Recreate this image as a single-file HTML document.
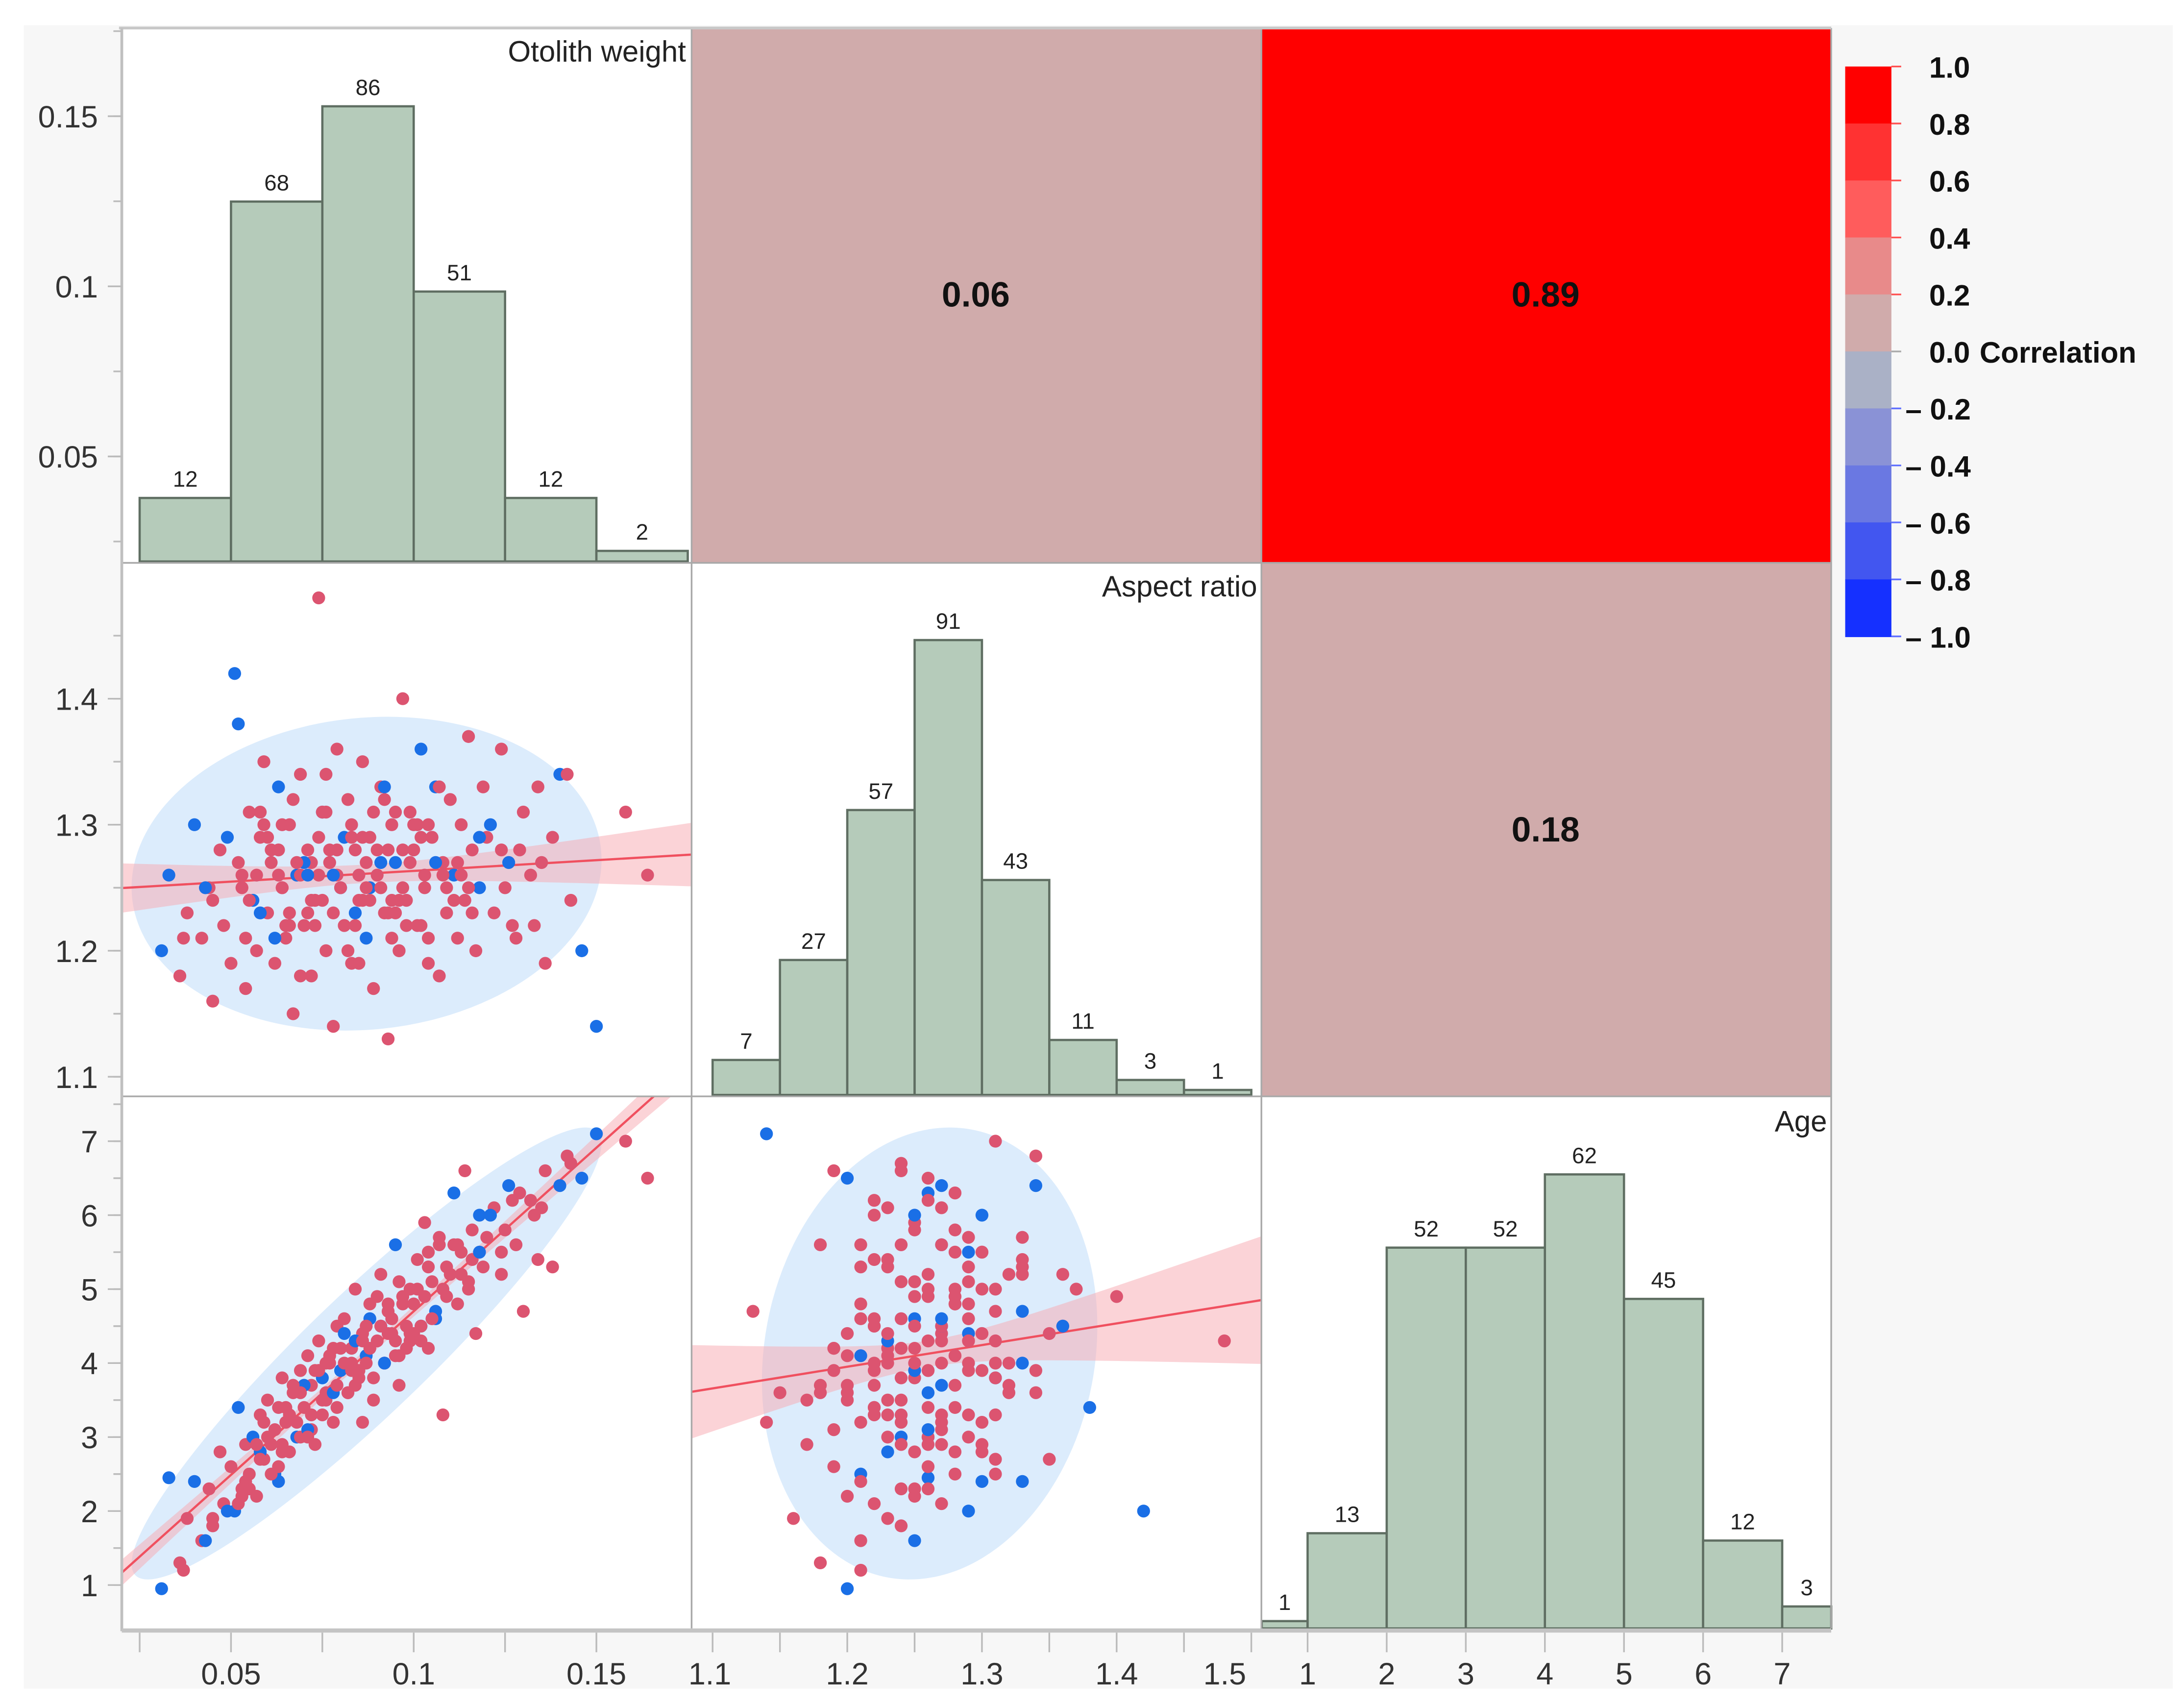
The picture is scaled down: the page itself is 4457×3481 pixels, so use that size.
<!DOCTYPE html>
<html><head><meta charset="utf-8"><style>
html,body{margin:0;padding:0;background:#fff;}
svg{display:block;}
text{font-family:"Liberation Sans",sans-serif;}
</style></head><body>
<svg id="chart" width="4457" height="3481" viewBox="0 0 1560 1218.4" preserveAspectRatio="none" xmlns="http://www.w3.org/2000/svg">
<rect x="0" y="0" width="1560" height="1218.4" fill="#ffffff"/>
<rect x="17" y="18" width="1535" height="1188" fill="#f7f7f7"/>
<rect x="87" y="20" width="1221" height="1143" fill="#ffffff"/>
<defs>
<clipPath id="c10"><rect x="87" y="402" width="407" height="381"/></clipPath>
<clipPath id="c20"><rect x="87" y="783" width="407" height="380"/></clipPath>
<clipPath id="c21"><rect x="494" y="783" width="407" height="380"/></clipPath>
</defs>
<g id="layer"></g>
</svg>
<script>
// ---- data ----
const owValues=[0.031,0.033,0.036,0.038,0.040,0.042,0.044,0.045,0.047,0.048,
0.050,0.051,0.052,0.053,0.054,0.055,0.056,0.057,0.058,0.059,
0.060,0.061,0.062,0.063,0.064,0.065,0.066,0.067,0.068,0.069,
0.070,0.071,0.072,0.073,0.074,0.075,0.076,0.077,0.078,0.079,
0.080,0.081,0.082,0.083,0.084,0.085,0.086,0.087,0.088,0.089,
0.090,0.091,0.092,0.093,0.094,0.095,0.096,0.097,0.098,0.099,
0.100,0.101,0.102,0.103,0.104,0.105,0.106,0.107,0.108,0.109,
0.110,0.111,0.112,0.113,0.114,0.115,0.116,0.117,0.118,0.119,
0.120,0.122,0.124,0.126,0.128,0.130,0.132,0.134,0.136,0.138,
0.140,0.143,0.146,0.150,0.158,0.164,0.072,0.078,0.083,0.088,
0.092,0.097,0.066,0.074,0.081,0.086,0.094,0.099,0.104,0.109,
0.058,0.063,0.069,0.076,0.084,0.091,0.096,0.102,0.107,0.113,
0.055,0.060,0.065,0.070,0.075,0.080,0.085,0.090,0.095,0.100,
0.057,0.062,0.067,0.072,0.077,0.082,0.087,0.092,0.097,0.102,
0.059,0.064,0.069,0.074,0.079,0.084,0.089,0.094,0.099,0.104,
0.061,0.066,0.071,0.076,0.081,0.086,0.091,0.096,0.101,0.106,
0.053,0.058,0.068,0.073,0.078,0.083,0.088,0.093,0.098,0.108,
0.112,0.116,0.121,0.125,0.129,0.133,0.045,0.049,0.054,0.063,
0.071,0.079,0.087,0.095,0.103,0.111,0.118,0.127,0.135,0.142,
0.037,0.043,0.052,0.064,0.075,0.085,0.093,0.105,0.115,0.124];
const arValues=[1.20,1.26,1.18,1.23,1.30,1.21,1.25,1.16,1.28,1.22,
1.19,1.42,1.38,1.26,1.17,1.31,1.24,1.20,1.29,1.35,
1.23,1.27,1.19,1.33,1.25,1.21,1.30,1.15,1.26,1.34,
1.22,1.28,1.18,1.24,1.48,1.31,1.20,1.27,1.14,1.36,
1.25,1.22,1.32,1.19,1.28,1.24,1.35,1.21,1.29,1.17,
1.26,1.33,1.23,1.13,1.30,1.27,1.20,1.40,1.24,1.31,
1.28,1.22,1.36,1.25,1.19,1.29,1.33,1.18,1.27,1.23,
1.32,1.26,1.21,1.30,1.24,1.37,1.28,1.20,1.25,1.33,
1.29,1.23,1.36,1.27,1.21,1.31,1.26,1.33,1.19,1.29,
1.34,1.24,1.20,1.14,1.31,1.26,1.27,1.23,1.30,1.25,
1.32,1.28,1.22,1.26,1.29,1.24,1.21,1.27,1.30,1.25,
1.23,1.28,1.26,1.31,1.22,1.27,1.24,1.29,1.33,1.26,
1.24,1.29,1.22,1.27,1.31,1.25,1.19,1.28,1.23,1.30,
1.26,1.21,1.32,1.24,1.28,1.20,1.27,1.33,1.25,1.22,
1.30,1.25,1.18,1.29,1.26,1.23,1.31,1.24,1.27,1.21,
1.28,1.23,1.26,1.34,1.22,1.29,1.25,1.20,1.30,1.27,
1.25,1.31,1.27,1.22,1.26,1.29,1.24,1.28,1.22,1.26,
1.27,1.23,1.30,1.25,1.28,1.22,1.24,1.29,1.21,1.26,
1.23,1.28,1.25,1.31,1.26,1.24,1.29,1.22,1.27,1.34,
1.21,1.25,1.27,1.30,1.24,1.26,1.23,1.29,1.25,1.28];
const ageValues=[0.95,2.45,1.3,1.9,2.4,1.6,2.3,1.9,2.8,2.1,
2.6,2.0,3.4,2.3,2.9,2.5,3.0,2.2,3.3,2.7,
3.5,2.9,3.1,2.4,3.8,3.2,2.8,3.6,3.0,3.9,
3.4,4.1,3.7,2.9,4.3,3.8,3.5,4.0,3.2,4.5,
3.9,4.6,3.6,4.2,5.0,3.8,4.4,4.1,4.8,3.5,
4.3,5.2,4.0,4.7,4.4,5.6,3.7,4.9,4.2,5.0,
4.8,5.4,4.5,5.9,4.2,5.1,4.7,5.6,3.3,5.3,
5.2,6.3,4.8,5.5,6.6,5.0,5.8,4.4,6.0,5.3,
5.7,6.1,5.2,6.4,5.6,4.7,6.2,5.4,6.6,5.3,
6.4,6.7,6.5,7.1,7.0,6.5,3.1,4.2,3.9,4.6,
4.0,4.8,3.3,3.9,4.4,3.2,4.6,4.4,5.5,4.9,
2.8,3.4,3.0,4.0,3.7,4.5,5.1,4.3,5.7,5.2,
2.3,3.0,3.4,3.7,3.3,4.2,3.9,4.9,4.1,4.4,
2.9,2.5,3.7,3.3,4.1,3.6,4.5,4.0,4.9,4.5,
3.2,2.8,3.6,3.9,3.4,4.3,3.8,4.6,4.3,5.3,
2.5,3.3,3.1,3.6,4.0,4.3,4.5,4.1,5.0,4.6,
2.2,2.7,3.2,3.9,3.6,4.0,4.2,4.8,4.5,5.0,
5.6,5.4,6.0,5.8,6.3,6.0,1.8,2.0,2.4,2.6,
3.0,3.7,4.0,4.3,4.9,5.6,5.5,6.2,6.1,6.8,
1.2,1.6,2.1,2.9,3.5,3.9,4.4,4.6,5.1,5.5];
const groupCodes=("bbrrbrrrrr"+"rbbrrrbrrr"+"rrrbrrrrbr"+"rrrrrbrrrr"+"brrrrrrbrr"+"rrrrrbrrrr"+"rrbrrrbrrr"+"rbrrrrrrbr"+"rrrbrrrrrr"+"brbbrrrrrb"+"rrrrbrrrrr"+"brrrrbrrrr"+
"rrrbrrrrrr"+"rbrrrrrbrr"+"rrrrrbrrrr"+"rrbrrrrrrb"+"rrrrbrrrrr"+"rrbrrrrbrr"+"rrrrrrbrrr"+"rbrrrrrrrr").split("");
const owBinEdges=[0.025,0.05,0.075,0.1,0.125,0.15,0.175];
const owCounts=[12,68,86,51,12,2];
const arBinEdges=[1.1,1.15,1.2,1.25,1.3,1.35,1.4,1.45,1.5];
const arCounts=[7,27,57,91,43,11,3,1];
const ageBinEdges=[0.42,1,2,3,4,5,6,7,7.62];
const ageCounts=[1,13,52,52,62,45,12,3];
const corrValues=[0.06,0.89,0.18];
const owTicks=[0.05,0.1,0.15];
const owTickLabels=["0.05","0.1","0.15"];
const arTicks=[1.1,1.2,1.3,1.4,1.5];
const arTickLabels=["1.1","1.2","1.3","1.4","1.5"];
const ageTicks=[1,2,3,4,5,6,7];
const ageTickLabels=["1","2","3","4","5","6","7"];
const legendValues=[1.0,0.8,0.6,0.4,0.2,0.0,-0.2,-0.4,-0.6,-0.8,-1.0];
const legendLabels=["1.0","0.8","0.6","0.4","0.2","0.0","\u2013 0.2","\u2013 0.4","\u2013 0.6","\u2013 0.8","\u2013 1.0"];
const legendColors=["#ff0000","#ff3232","#ff5c5c","#e88a8a","#d0abab","#aab1c6","#8a92d6","#6a78e2","#4256f0","#1530ff"];

// ---- scales ----
const xOW=v=>165+(v-0.05)*2610;
const yOW=v=>326-(v-0.05)*2430;
const xAR=v=>509+(v-1.1)*962;
const yAR=v=>769-(v-1.1)*900;
const xAGE=v=>934+(v-1)*56.5;
const yAGE=v=>1132-(v-1)*52.83;
const hOW=c=>401-c*3.78;
const hAR=c=>782-c*3.57;
const hAGE=c=>1163-c*5.23;
const yLeg=v=>251-v*203.5;
const corrColor=r=>legendColors[Math.min(9,Math.max(0,Math.floor((1-r)/0.2)))];

const NS="http://www.w3.org/2000/svg";
const layer=document.getElementById("layer");
function mk(tag,attrs,parent){const e=document.createElementNS(NS,tag);for(const k in attrs)e.setAttribute(k,attrs[k]);(parent||layer).appendChild(e);return e;}
function txt(x,y,s,size,anchor,weight,fill,parent){const t=mk("text",{x:x,y:y,"font-size":size,"text-anchor":anchor,"font-weight":weight,fill:fill},parent);t.textContent=s;return t;}

// ---- correlation cells ----
const corrCells=[[494,20],[901,20],[901,402]];
corrCells.forEach((c,i)=>{
  const r=mk("rect",{x:c[0],y:c[1],width:407,height:(i==2?381:382),fill:corrColor(corrValues[i])});
  
  
  const t=txt(c[0]+203,c[1]+199,corrValues[i].toFixed(2),25,"middle","bold","#111");
  
  
});

// ---- histograms ----
function hist(edges,counts,xs,ys,bottom,name){
  counts.forEach((c,i)=>{
    const x0=xs(edges[i]),x1=xs(edges[i+1]),top=ys(c);
    const b=mk("rect",{x:x0,y:top,width:x1-x0,height:bottom-top,fill:"#b5cbba",stroke:"#5f6e62","stroke-width":1.6});
    
    
    const lx=Math.min((x0+x1)/2,1300);
    const t=txt(lx,top-8,String(c),16,"middle","normal","#222");
    
    
  });
}
hist(owBinEdges,owCounts,xOW,hOW,401,"otolith-weight-histogram");
hist(arBinEdges,arCounts,xAR,hAR,782,"aspect-ratio-histogram");
hist(ageBinEdges,ageCounts,xAGE,hAGE,1163,"age-histogram");
[["Otolith weight",490,44],["Aspect ratio",898,426],["Age",1305,808]].forEach(a=>{
  const t=txt(a[1],a[2],a[0],21,"end","normal","#222");
  
  
});

// ---- scatter panels ----
function scatter(xv,yv,xs,ys,clip,x0,x1,name){
  const g=mk("g",{"clip-path":"url(#"+clip+")"});
  
  
  const n=xv.length;const px=xv.map(xs),py=yv.map(ys);
  let mx=0,my=0;for(let i=0;i<n;i++){mx+=px[i];my+=py[i];}mx/=n;my/=n;
  let sxx=0,syy=0,sxy=0;for(let i=0;i<n;i++){const dx=px[i]-mx,dy=py[i]-my;sxx+=dx*dx;syy+=dy*dy;sxy+=dx*dy;}
  sxx/=n-1;syy/=n-1;sxy/=n-1;
  const tr=(sxx+syy)/2,d=Math.sqrt(((sxx-syy)/2)**2+sxy*sxy);
  const l1=tr+d,l2=tr-d,ang=Math.atan2(l1-sxx,sxy)*180/Math.PI;
  const k=2.4;
  const el=mk("ellipse",{cx:mx,cy:my,rx:k*Math.sqrt(l1),ry:k*Math.sqrt(Math.max(l2,1)),transform:"rotate("+(isNaN(ang)?0:ang)+" "+mx+" "+my+")",fill:"#dcecfc"},g);
  
  
  let ax=0,ay=0;for(let i=0;i<n;i++){ax+=xv[i];ay+=yv[i];}ax/=n;ay/=n;
  let Sxx=0,Sxy=0;for(let i=0;i<n;i++){Sxx+=(xv[i]-ax)**2;Sxy+=(xv[i]-ax)*(yv[i]-ay);}
  const b=Sxy/Sxx,a=ay-b*ax;let sse=0;for(let i=0;i<n;i++){sse+=(yv[i]-a-b*xv[i])**2;}
  const se=Math.sqrt(sse/(n-2));
  const up=[],lo=[],ln=[];
  const steps=40;
  for(let s=0;s<=steps;s++){
    const pxv=x0+(x1-x0)*s/steps;
    const dx0=xs(0),dx1=xs(1);const v=(pxv-dx0)/(dx1-dx0);
    const yh=a+b*v,w=1.98*se*Math.sqrt(1/n+(v-ax)**2/Sxx);
    up.push(pxv+","+ys(yh+w));lo.unshift(pxv+","+ys(yh-w));ln.push(pxv+","+ys(yh));
  }
  const band=mk("polygon",{points:up.concat(lo).join(" "),fill:"#f8a8b0","fill-opacity":0.5},g);
  
  
  const line=mk("polyline",{points:ln.join(" "),fill:"none",stroke:"#f0505f","stroke-width":1.6},g);
  
  
  for(let i=0;i<n;i++){
    const c=mk("circle",{cx:px[i],cy:py[i],r:4.6,fill:groupCodes[i]=="b"?"#1a6fe6":"#dc5470"},g);
    
    
  }
}
scatter(owValues,arValues,xOW,yAR,"c10",87,494,"weight-vs-aspect-scatter");
scatter(owValues,ageValues,xOW,yAGE,"c20",87,494,"weight-vs-age-scatter");
scatter(arValues,ageValues,xAR,yAGE,"c21",494,901,"aspect-vs-age-scatter");

// ---- grid / frame ----
[[494,20,494,1163],[901,20,901,1163],[87,402,1308,402],[87,783,1308,783],[1308,20,1308,1163]].forEach(l=>{
  const e=mk("line",{x1:l[0],y1:l[1],x2:l[2],y2:l[3],stroke:"#a9a9a9","stroke-width":1.2});
  
  
});
const topB=mk("line",{x1:85,y1:20,x2:1308,y2:20,stroke:"#c8c8c8","stroke-width":2});

const leftAx=mk("line",{x1:87,y1:20,x2:87,y2:1165,stroke:"#c0c0c0","stroke-width":2});

const botAx=mk("line",{x1:87,y1:1164.5,x2:1308,y2:1164.5,stroke:"#c4c4c4","stroke-width":3});


function yTicks(ticks,labels,ys,minorStep,lo,hi,name){
  for(let v=lo;v<=hi+1e-9;v+=minorStep){const y=ys(v);
    const m=mk("line",{x1:81,y1:y,x2:87,y2:y,stroke:"#bbb","stroke-width":1.2});
    }
  ticks.forEach((v,i)=>{const y=ys(v);
    const m=mk("line",{x1:77,y1:y,x2:87,y2:y,stroke:"#bbb","stroke-width":1.2});
    
    const t=txt(70,y+8,labels[i],22,"end","normal","#333");
    });
}
yTicks(owTicks,owTickLabels,yOW,0.025,0.025,0.175,"weight-y-axis");
yTicks(arTicks.slice(0,4),arTickLabels.slice(0,4),yAR,0.05,1.1,1.45,"aspect-y-axis");
yTicks(ageTicks,ageTickLabels,yAGE,0.5,1,7.5,"age-y-axis");

function xTicks(ticks,labels,xs,minorStep,lo,hi,name,labelShift){
  for(let v=lo;v<=hi+1e-9;v+=minorStep){const x=xs(v);
    const m=mk("line",{x1:x,y1:1166,x2:x,y2:1180,stroke:"#bbb","stroke-width":1.2});
    }
  ticks.forEach((v,i)=>{const x=xs(v)+(labelShift[i]||0);
    const t=txt(x,1203,labels[i],22,"middle","normal","#333");
    });
}
xTicks(owTicks,owTickLabels,xOW,0.025,0.025,0.15,"weight-x-axis",[]);
xTicks(arTicks,arTickLabels,xAR,0.05,1.1,1.5,"aspect-x-axis",[-2,0,0,0,-19]);
xTicks(ageTicks,ageTickLabels,xAGE,1,1,7,"age-x-axis",[]);

// ---- legend ----
legendColors.forEach((c,i)=>{
  const y0=yLeg(legendValues[i]),y1=yLeg(legendValues[i+1]);
  const r=mk("rect",{x:1318,y:y0,width:33,height:y1-y0+0.5,fill:c});
  
  
});
legendValues.forEach((v,i)=>{
  const y=yLeg(v);
  const tk=mk("line",{x1:1351,y1:y,x2:1358,y2:y,stroke:v>0?"#ff5050":(v<0?"#6070ff":"#aaa"),"stroke-width":1.2});
  
  const t=txt(v<0?1361:1378,y+8,legendLabels[i],21,"start","bold","#111");
  
});
const lt=txt(1414,259,"Correlation",21,"start","bold","#111");

</script>
</body></html>
